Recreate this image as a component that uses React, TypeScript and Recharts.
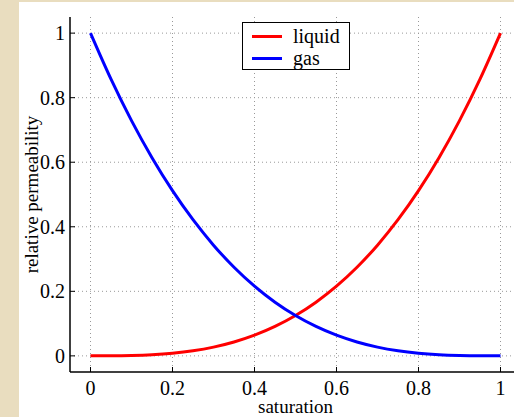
import React from 'react';
import { LineChart, Line, XAxis, YAxis, CartesianGrid, Legend } from 'recharts';

// saturation samples and the two relative permeability curves
const saturation = [0, 0.05, 0.1, 0.15, 0.2, 0.25, 0.3, 0.35, 0.4, 0.45, 0.5, 0.55, 0.6, 0.65, 0.7, 0.75, 0.8, 0.85, 0.9, 0.95, 1];
const liquid = [0, 0.0001, 0.001, 0.0034, 0.008, 0.0156, 0.027, 0.0429, 0.064, 0.0911, 0.125, 0.1664, 0.216, 0.2746, 0.343, 0.4219, 0.512, 0.6141, 0.729, 0.8574, 1];
const gas = [1, 0.8574, 0.729, 0.6141, 0.512, 0.4219, 0.343, 0.2746, 0.216, 0.1664, 0.125, 0.0911, 0.064, 0.0429, 0.027, 0.0156, 0.008, 0.0034, 0.001, 0.0001, 0];
const ticks = [0, 0.2, 0.4, 0.6, 0.8, 1];
const tickLabels = ['0', '0.2', '0.4', '0.6', '0.8', '1'];
const seriesNames = ['liquid', 'gas'];

const COLORS = ['#ff0000', '#0000ff'];
const FONT = '"Liberation Serif", "Times New Roman", serif';

const data = saturation.map((s, i) => ({ s, liquid: liquid[i], gas: gas[i] }));

const label = (v: number) => tickLabels[ticks.indexOf(v)] ?? String(v);

// bottom ticks: inward mark + label below
const BottomTick = ({ x, y, payload }: any) => (
  <g>
    <line x1={x} x2={x} y1={y - 8} y2={y - 13} stroke="#000" strokeWidth={1} />
    <text x={x} y={y} dy={15} textAnchor="middle" fontFamily={FONT} fontSize={20} fill="#000">
      {label(payload.value)}
    </text>
  </g>
);

// left ticks: inward mark + label to the left
const LeftTick = ({ x, y, payload }: any) => (
  <g>
    <line x1={x + 5} x2={x + 10} y1={y} y2={y} stroke="#000" strokeWidth={1} />
    <text x={x} y={y} dy={7} textAnchor="end" fontFamily={FONT} fontSize={20} fill="#000">
      {label(payload.value)}
    </text>
  </g>
);

// top axis: only inward marks
const TopTick = ({ x, y }: any) => (
  <line x1={x} x2={x} y1={y} y2={y + 5} stroke="#000" strokeWidth={1} />
);

const LegendBox = () => (
  <div
    style={{
      width: 108,
      height: 48,
      boxSizing: 'border-box',
      border: '1.5px solid #000',
      background: '#fff',
      fontFamily: FONT,
      fontSize: 20,
      position: 'relative',
    }}
  >
    {seriesNames.map((name, i) => (
      <div
        key={name}
        style={{ position: 'absolute', left: 9, top: 2 + i * 22, height: 22, display: 'flex', alignItems: 'center' }}
      >
        <span style={{ display: 'inline-block', width: 30, height: 3, background: COLORS[i], marginRight: 11 }} />
        <span style={{ lineHeight: '20px' }}>{name}</span>
      </div>
    ))}
  </div>
);

const App = () => {
  return (
    <div style={{ position: 'absolute', left: 0, top: 0, width: 514, height: 417, overflow: 'hidden', background: '#e9ddbf' }}>
      <div style={{ position: 'absolute', left: 19, top: 2, width: 495, height: 415, background: '#fff' }} />
      <div style={{ position: 'absolute', left: 0, top: 0 }}>
        <LineChart width={530} height={417} data={data} margin={{ top: 17, right: 9, bottom: 15, left: 10 }}>
          <CartesianGrid stroke="#999" strokeDasharray="1 3" horizontalValues={ticks} verticalValues={ticks} />
          <XAxis
            dataKey="s"
            type="number"
            domain={[-0.05, 1.05]}
            ticks={ticks}
            height={30}
            tickSize={0}
            tickMargin={8}
            tick={<BottomTick />}
            axisLine={{ stroke: '#000', strokeWidth: 1.5 }}
            tickLine={false}
            label={(p: any) => (
              <text
                x={p.viewBox.x + p.viewBox.width / 2}
                y={p.viewBox.y + 41}
                textAnchor="middle"
                fontFamily={FONT}
                fontSize={19}
                fill="#000"
              >
                saturation
              </text>
            )}
          />
          <XAxis
            xAxisId="top"
            orientation="top"
            type="number"
            domain={[-0.05, 1.05]}
            ticks={ticks}
            height={0}
            tickSize={0}
            tickMargin={0}
            tick={<TopTick />}
            tickLine={false}
            axisLine={{ stroke: '#000', strokeWidth: 1.5 }}
          />
          <YAxis
            type="number"
            domain={[-0.05, 1.05]}
            ticks={ticks}
            width={60}
            tickSize={0}
            tickMargin={5}
            tick={<LeftTick />}
            tickLine={false}
            axisLine={{ stroke: '#000', strokeWidth: 1.5 }}
            label={(p: any) => (
              <text
                x={p.viewBox.x + 22}
                y={p.viewBox.y + p.viewBox.height / 2}
                dy={6}
                textAnchor="middle"
                fontFamily={FONT}
                fontSize={19}
                fill="#000"
                transform={`rotate(-90, ${p.viewBox.x + 22}, ${p.viewBox.y + p.viewBox.height / 2})`}
              >
                relative permeability
              </text>
            )}
          />
          <YAxis
            yAxisId="right"
            orientation="right"
            type="number"
            domain={[-0.05, 1.05]}
            width={0}
            tick={false}
            tickLine={false}
            axisLine={{ stroke: '#000', strokeWidth: 1.5 }}
          />
          <Legend
            layout="horizontal"
            verticalAlign="middle"
            align="center"
            content={<LegendBox />}
            wrapperStyle={{ position: 'absolute', left: 242, top: 22, width: 108, height: 48 }}
          />
          <Line dataKey="liquid" stroke={COLORS[0]} strokeWidth={3} dot={false} isAnimationActive={false} type="monotone" />
          <Line dataKey="gas" stroke={COLORS[1]} strokeWidth={3} dot={false} isAnimationActive={false} type="monotone" />
        </LineChart>
      </div>
    </div>
  );
};

export default App;
